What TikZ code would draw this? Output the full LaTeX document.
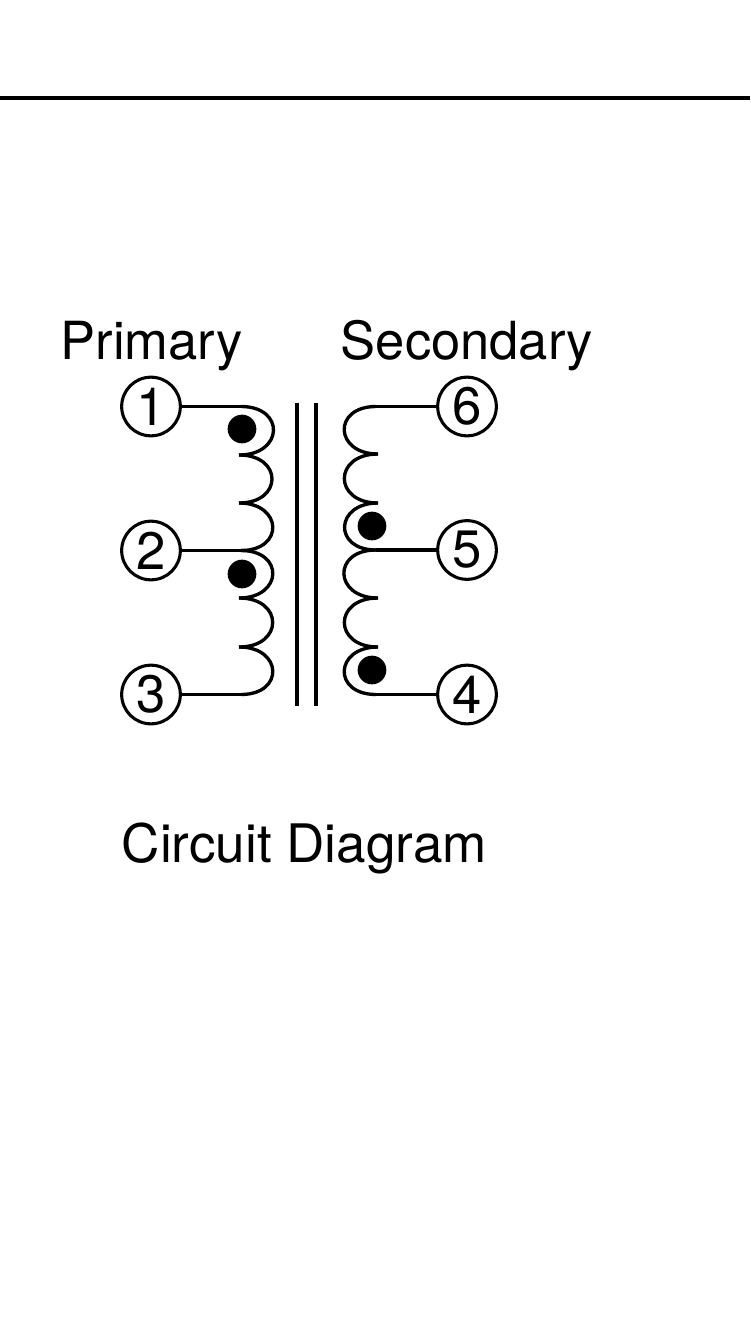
\documentclass[tikz,border=0pt]{standalone}
\usepackage{fontspec}
\setmainfont{TeX Gyre Heros}
\begin{document}
\begin{tikzpicture}[x=0.75pt,y=-0.75pt,
  wire/.style={line width=2.5pt,black},
  termnode/.style={circle,draw=black,line width=2.3pt,minimum size=44pt,inner sep=0pt,font=\fontsize{39.5}{39.5}\selectfont},
  dotnode/.style={circle,fill=black,minimum size=21.5pt,inner sep=0pt},
  labelnode/.style={inner sep=0pt,font=\fontsize{39.4}{39.4}\selectfont,anchor=base west},
  hump/.style={out=#1,in=#1,looseness=2.35}]
\useasboundingbox (0,0) rectangle (750,1334);
\fill[white] (0,0) rectangle (750,1334);
\coordinate (ruleL) at (0,98);
\coordinate (ruleR) at (750,98);
\draw[wire] (ruleL) -- (ruleR);
\node[labelnode] (primary) at (60.5,359) {Primary};
\node[labelnode] (secondary) at (340.5,359) {Secondary};
\node[labelnode,font=\fontsize{39.8}{39.8}\selectfont] (caption) at (121.5,862) {Circuit Diagram};
\node[termnode] (t1) at (151,406.5) {1};
\node[termnode] (t2) at (151,550.5) {2};
\node[termnode] (t3) at (151,694.5) {3};
\node[termnode] (t6) at (467,406.5) {6};
\node[termnode] (t5) at (467,550) {5};
\node[termnode] (t4) at (467,694.5) {4};
\node[dotnode] (d1) at (242,429) {};
\node[dotnode] (d2) at (242,574) {};
\node[dotnode] (d5) at (372,526) {};
\node[dotnode] (d4) at (372,670) {};
% core
\coordinate (c1a) at (297,402.5); \coordinate (c1b) at (297,706);
\coordinate (c2a) at (316,402.5); \coordinate (c2b) at (316,706);
\draw[wire] (c1a) -- (c1b);
\draw[wire] (c2a) -- (c2b);
% primary coil
\coordinate (La) at (241,406.5);
\coordinate (Lb) at (239,455);
\coordinate (Lc) at (239,503);
\coordinate (Ld) at (241,550.5);
\coordinate (Le) at (239,598);
\coordinate (Lf) at (239,647);
\coordinate (Lg) at (241,694.5);
\draw[wire] (t1) -- (La);
\draw[wire] (t2) -- (Ld);
\draw[wire] (t3) -- (Lg);
\draw[wire] (La) to[hump=0] (Lb);
\draw[wire] (Lb) to[hump=0] (Lc);
\draw[wire] (Lc) to[hump=0] (Ld);
\draw[wire] (Ld) to[hump=0] (Le);
\draw[wire] (Le) to[hump=0] (Lf);
\draw[wire] (Lf) to[hump=0] (Lg);
% secondary coil
\coordinate (Ra) at (376,406.5);
\coordinate (Rb) at (378,454);
\coordinate (Rc) at (378,503);
\coordinate (Rd) at (376,550);
\coordinate (Re) at (378,598);
\coordinate (Rf) at (378,647);
\coordinate (Rg) at (376,694.5);
\draw[wire] (t6) -- (Ra);
\draw[wire] (t5) -- (Rd);
\draw[wire] (t4) -- (Rg);
\draw[wire] (Ra) to[hump=180] (Rb);
\draw[wire] (Rb) to[hump=180] (Rc);
\draw[wire] (Rc) to[hump=180] (Rd);
\draw[wire] (Rd) to[hump=180] (Re);
\draw[wire] (Re) to[hump=180] (Rf);
\draw[wire] (Rf) to[hump=180] (Rg);
\end{tikzpicture}
\end{document}
